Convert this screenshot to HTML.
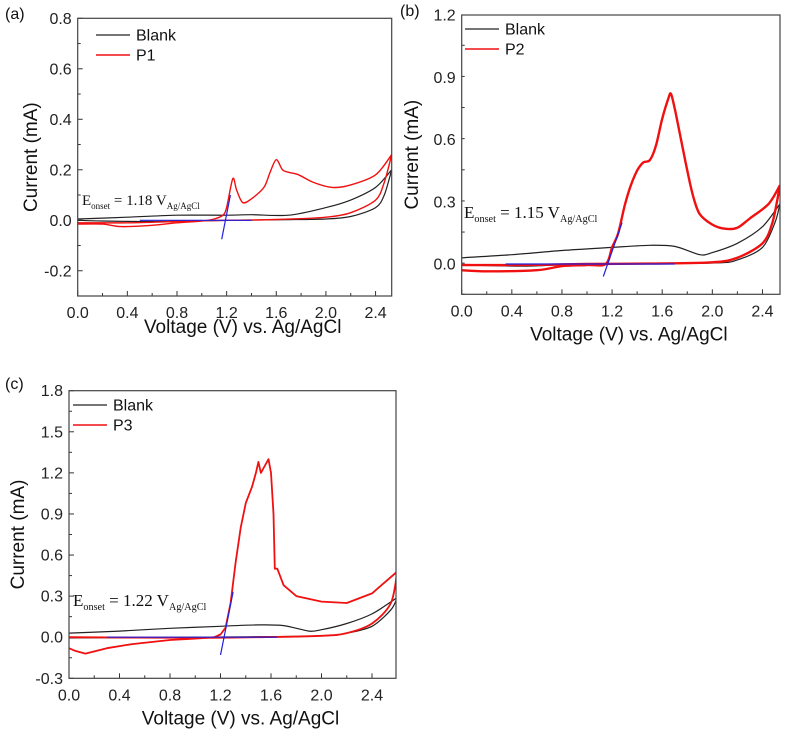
<!DOCTYPE html>
<html><head><meta charset="utf-8"><style>
html,body{margin:0;padding:0;background:#fff}
svg{display:block;font-family:"Liberation Sans",Arial,sans-serif}
</style></head><body>
<svg id="fig" width="787" height="737" viewBox="0 0 787 737" xmlns="http://www.w3.org/2000/svg"></svg>
<script>
// Panel (a)
const aBlankFwdX=[0,0.4,0.8,1.2,1.4,1.7,2.0,2.2,2.4,2.53];
const aBlankFwdY=[0.005,0.012,0.02,0.02,0.022,0.02,0.05,0.08,0.13,0.2];
const aBlankRevX=[2.53,2.47,2.4,2.2,2.0,1.6,1.0,0.6,0.2,0];
const aBlankRevY=[0.2,0.1,0.05,0.015,0.005,0.002,-0.002,-0.005,-0.003,0];
const aP1FwdX=[0,0.2,0.35,0.6,0.8,1.0,1.1,1.17,1.2,1.25,1.28,1.33,1.4,1.5,1.55,1.6,1.65,1.7,1.78,1.9,2.05,2.2,2.4,2.53];
const aP1FwdY=[-0.015,-0.015,-0.025,-0.02,-0.01,-0.003,0.005,0.02,0.05,0.165,0.12,0.07,0.085,0.13,0.19,0.24,0.2,0.19,0.18,0.15,0.13,0.14,0.18,0.26];
const aP1RevX=[2.53,2.47,2.4,2.2,2.0,1.6,1.2,0.8,0.4,0];
const aP1RevY=[0.26,0.15,0.08,0.03,0.012,0.003,0,-0.005,-0.01,-0.01];
// Panel (b)
const bBlankFwdX=[0,0.4,0.8,1.2,1.5,1.7,1.9,2.0,2.2,2.4,2.54];
const bBlankFwdY=[0.03,0.045,0.065,0.08,0.09,0.085,0.045,0.055,0.1,0.18,0.29];
const bBlankRevX=[2.54,2.5,2.4,2.2,2.0,1.0,0.5,0];
const bBlankRevY=[0.29,0.2,0.08,0.02,0.005,0,-0.01,-0.005];
const bP2FwdX=[0,0.2,0.6,0.8,1.0,1.15,1.2,1.25,1.3,1.35,1.4,1.45,1.5,1.55,1.6,1.65,1.67,1.7,1.75,1.8,1.85,1.9,2.0,2.1,2.2,2.3,2.45,2.54];
const bP2FwdY=[-0.03,-0.035,-0.03,-0.01,-0.005,0,0.08,0.15,0.28,0.38,0.45,0.49,0.5,0.57,0.7,0.8,0.82,0.75,0.6,0.45,0.32,0.24,0.19,0.17,0.175,0.22,0.29,0.38];
const bP2RevX=[2.54,2.48,2.4,2.2,2.0,1.5,1.0,0.5,0];
const bP2RevY=[0.38,0.2,0.1,0.03,0.008,0.002,0,-0.005,-0.005];
// Panel (c)
const cBlankFwdX=[0,0.4,0.8,1.2,1.5,1.7,1.9,2.0,2.2,2.4,2.6];
const cBlankFwdY=[0.03,0.045,0.065,0.08,0.09,0.085,0.045,0.055,0.1,0.17,0.29];
const cBlankRevX=[2.6,2.55,2.4,2.2,2.0,1.0,0];
const cBlankRevY=[0.29,0.2,0.08,0.03,0.01,0,-0.005];
const cP3FwdX=[0,0.05,0.13,0.3,0.5,0.8,1.0,1.15,1.2,1.24,1.28,1.32,1.36,1.4,1.45,1.48,1.5,1.52,1.55,1.58,1.6,1.62,1.63,1.65,1.7,1.8,2.0,2.2,2.4,2.6];
const cP3FwdY=[-0.08,-0.1,-0.12,-0.08,-0.05,-0.02,-0.01,0,0.02,0.07,0.25,0.55,0.8,0.98,1.1,1.2,1.28,1.2,1.25,1.3,1.2,0.9,0.5,0.5,0.38,0.3,0.26,0.25,0.32,0.48];
const cP3RevX=[2.6,2.55,2.4,2.2,2.0,1.5,1.0,0];
const cP3RevY=[0.48,0.25,0.1,0.03,0.01,0,-0.005,0];

const xTicks=["0.0","0.4","0.8","1.2","1.6","2.0","2.4"];
const aYTicks=["-0.2","0.0","0.2","0.4","0.6","0.8"];
const bYTicks=["0.0","0.3","0.6","0.9","1.2"];
const cYTicks=["-0.3","0.0","0.3","0.6","0.9","1.2","1.5","1.8"];

const NS="http://www.w3.org/2000/svg";
const svg=document.getElementById('fig');
function mk(tag,attrs,parent){const e=document.createElementNS(NS,tag);for(const k in attrs)e.setAttribute(k,attrs[k]);(parent||svg).appendChild(e);return e;}

function smoothPath(pts){
  let d='M'+pts[0][0].toFixed(1)+','+pts[0][1].toFixed(1);
  for(let i=0;i<pts.length-1;i++){
    const p0=pts[i-1]||pts[i],p1=pts[i],p2=pts[i+1],p3=pts[i+2]||p2;
    const t=0.15;
    const c1=[p1[0]+(p2[0]-p0[0])*t,p1[1]+(p2[1]-p0[1])*t];
    const c2=[p2[0]-(p3[0]-p1[0])*t,p2[1]-(p3[1]-p1[1])*t];
    d+=`C${c1[0].toFixed(1)},${c1[1].toFixed(1)} ${c2[0].toFixed(1)},${c2[1].toFixed(1)} ${p2[0].toFixed(1)},${p2[1].toFixed(1)}`;
  }
  return d;
}

function panel(cfg){
  const g=mk('g',{});
  
  
  const sx=v=>cfg.L+(v-0)/(cfg.xmax)*(cfg.R-cfg.L);
  const sy=v=>cfg.B-(v-cfg.ymin)/(cfg.ymax-cfg.ymin)*(cfg.B-cfg.T);
  const cid='clip'+cfg.id;
  const cp=mk('clipPath',{id:cid},g);mk('rect',{x:cfg.L,y:cfg.T,width:cfg.R-cfg.L,height:cfg.B-cfg.T},cp);
  for(let v=0;v<=cfg.xmax+1e-9;v+=0.2){
    const maj=Math.round(v*10)%4===0;const x=sx(v);
    const t=mk('line',{x1:x,x2:x,y1:cfg.B,y2:cfg.B-(maj?5:3),stroke:'#333','stroke-width':1},g);
    
    
  }
  xTicks.forEach(s=>{const t=mk('text',{x:sx(parseFloat(s)),y:cfg.B+22,'font-size':16,'text-anchor':'middle',fill:'#222'},g);t.textContent=s;
    
    });
  const step=parseFloat(cfg.yt[1])-parseFloat(cfg.yt[0]);
  for(let v=cfg.ymin;v<=cfg.ymax+1e-9;v+=step/2){
    const y=sy(v);const maj=Math.abs(Math.round(v/step)*step-v)<1e-6;
    const t=mk('line',{x1:cfg.L,x2:cfg.L+(maj?5:3),y1:y,y2:y,stroke:'#333','stroke-width':1},g);
    
    
  }
  cfg.yt.forEach(s=>{const t=mk('text',{x:cfg.L-6,y:sy(parseFloat(s))+5.5,'font-size':16,'text-anchor':'end',fill:'#222'},g);t.textContent=s;
    
    });
  const xt=mk('text',{x:(cfg.L+cfg.R)/2+8,y:cfg.B+cfg.xtOff,'font-size':19,'text-anchor':'middle',fill:'#111'},g);xt.textContent='Voltage (V) vs. Ag/AgCl';
  
  
  const yc=(cfg.T+cfg.B)/2;
  const yt=mk('text',{x:cfg.ytX,y:yc,'font-size':19,'text-anchor':'middle',fill:'#111',transform:`rotate(-90 ${cfg.ytX} ${yc})`},g);yt.textContent='Current (mA)';
  
  
  const pl=mk('text',{x:cfg.plX,y:cfg.plY,'font-size':16,fill:'#111'},g);pl.textContent=cfg.label;
  
  
  const cg=mk('g',{'clip-path':`url(#${cid})`},g);
  function line(xs,ys,color,w,name,smooth){
    const pts=xs.map((x,i)=>[sx(x),sy(ys[i])]);
    const d=smooth?smoothPath(pts):pts.map((p,i)=>(i?'L':'M')+p[0].toFixed(1)+','+p[1].toFixed(1)).join('');
    const p=mk('path',{d,fill:'none',stroke:color,'stroke-width':w,'stroke-linejoin':'round'},cg);
    
    
  }
  line(cfg.bf[0],cfg.bf[1],'#222',1.2,'blank-forward-line',true);
  line(cfg.br[0],cfg.br[1],'#222',1.2,'blank-reverse-line',true);
  line(cfg.pr[0],cfg.pr[1],'#f01010',cfg.pw,'sample-reverse-line',true);
  line(cfg.pf[0],cfg.pf[1],'#f01010',cfg.pw,'sample-forward-line',cfg.id!=='c');
  line([cfg.h[0],cfg.h[1]],[0,0],'#2020e0',1.2,'onset-baseline');
  line([cfg.tg[0],cfg.tg[2]],[cfg.tg[1],cfg.tg[3]],'#2020e0',1.2,'onset-tangent');
  const fr=mk('rect',{x:cfg.L,y:cfg.T,width:cfg.R-cfg.L,height:cfg.B-cfg.T,fill:'none',stroke:'#444','stroke-width':1.2},g);
  
  
  [['Blank','#222',1.2],[cfg.sname,'#f01010',1.6]].forEach((e,i)=>{
    const y=cfg.lgY+i*20;
    const l=mk('line',{x1:cfg.lgX,x2:cfg.lgX+34,y1:y,y2:y,stroke:e[1],'stroke-width':e[2]},g);
    
    
    const t=mk('text',{x:cfg.lgX+40,y:y+5.5,'font-size':16,fill:'#111'},g);t.textContent=e[0];
    
    
  });
  const an=mk('text',{x:cfg.anX,y:cfg.anY,'font-family':'"Liberation Serif",serif','font-size':cfg.anF,fill:'#111'},g);
  
  
  an.innerHTML=`E<tspan font-size="${cfg.anF*0.6}" dy="4">onset</tspan><tspan dy="-4"> = ${cfg.onset} V</tspan><tspan font-size="${cfg.anF*0.6}" dy="4">Ag/AgCl</tspan>`;
}

panel({id:'a',name:'panel-a',label:'(a)',sname:'P1',L:77.7,R:391.7,T:18.3,B:296,xmax:2.53,ymin:-0.3,ymax:0.8,yt:aYTicks,
  bf:[aBlankFwdX,aBlankFwdY],br:[aBlankRevX,aBlankRevY],pf:[aP1FwdX,aP1FwdY],pr:[aP1RevX,aP1RevY],pw:1.4,
  h:[0.5,1.4],tg:[1.16,-0.075,1.23,0.1],xtOff:37,ytX:37,plX:5,plY:19,lgX:96,lgY:35,anX:82,anY:205,anF:15,onset:'1.18'});
panel({id:'b',name:'panel-b',label:'(b)',sname:'P2',L:461.7,R:780,T:15,B:294.3,xmax:2.54,ymin:-0.146,ymax:1.2,yt:bYTicks,
  bf:[bBlankFwdX,bBlankFwdY],br:[bBlankRevX,bBlankRevY],pf:[bP2FwdX,bP2FwdY],pr:[bP2RevX,bP2RevY],pw:2.4,
  h:[0.35,1.7],tg:[1.13,-0.06,1.28,0.2],xtOff:46,ytX:418,plX:400,plY:16,lgX:465,lgY:29,anX:464,anY:218,anF:17,onset:'1.15'});
panel({id:'c',name:'panel-c',label:'(c)',sname:'P3',L:69,R:396,T:390.7,B:678.3,xmax:2.59,ymin:-0.3,ymax:1.8,yt:cYTicks,
  bf:[cBlankFwdX,cBlankFwdY],br:[cBlankRevX,cBlankRevY],pf:[cP3FwdX,cP3FwdY],pr:[cP3RevX,cP3RevY],pw:1.8,
  h:[0.3,1.65],tg:[1.2,-0.13,1.3,0.33],xtOff:46,ytX:24,plX:5,plY:389,lgX:73,lgY:405,anX:73,anY:606,anF:17,onset:'1.22'});
</script>
</body></html>
